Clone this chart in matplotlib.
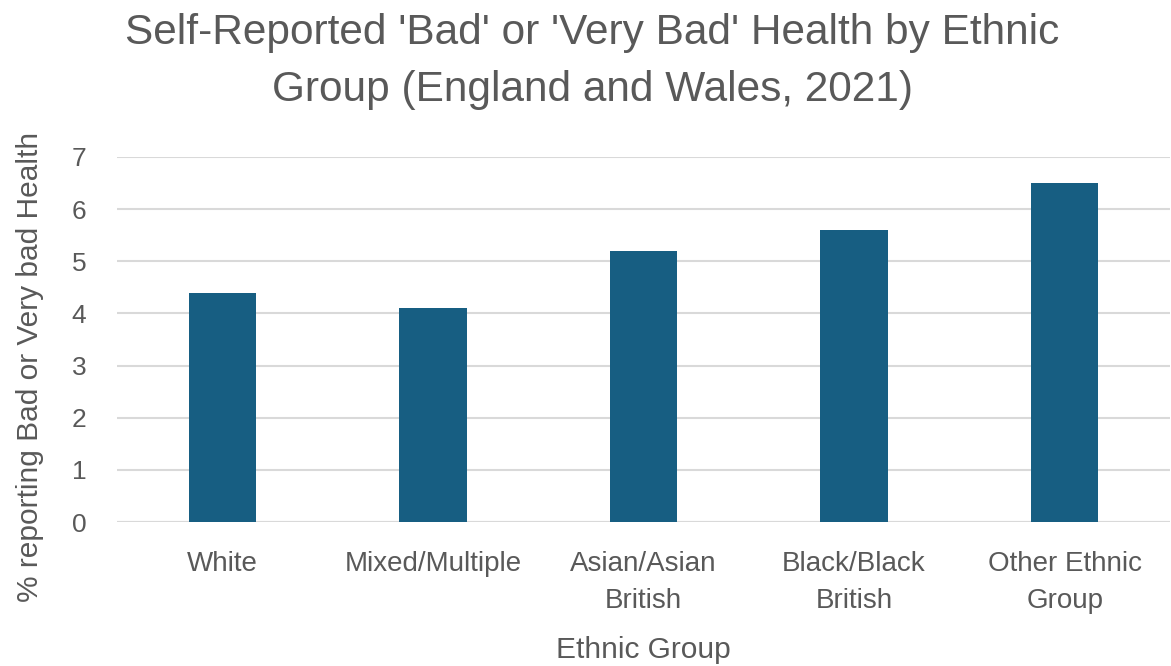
import matplotlib.pyplot as plt
import numpy as np

# Self-reported bad / very bad health, England and Wales census 2021
groups = ["White", "Mixed/Multiple", "Asian/Asian\nBritish", "Black/Black\nBritish", "Other Ethnic\nGroup"]
pct_bad_health = [4.4, 4.1, 5.2, 5.6, 6.5]
y_ticks = [0, 1, 2, 3, 4, 5, 6, 7]

bar_color = "#175E82"
text_color = "#595959"
grid_color = "#D9D9D9"

plt.rcParams['font.family'] = ['Liberation Sans', 'DejaVu Sans']

fig = plt.figure(figsize=(11.71, 6.66), dpi=100)
ax = fig.add_axes([117 / 1171, 1 - 522 / 666, (1170 - 117) / 1171, (522 - 157) / 666])

x = np.arange(len(groups))
ax.bar(x, pct_bad_health, width=0.32, color=bar_color, zorder=3)

ax.set_xlim(-0.5, len(groups) - 0.5)
ax.set_ylim(0, 7)
ax.set_yticks(y_ticks)
ax.yaxis.grid(True, color=grid_color, linewidth=1.5, zorder=0)
for s in ax.spines.values():
    s.set_visible(False)
ax.axhline(0, color=grid_color, linewidth=1.5, zorder=2)

ax.set_xticks(x)
ax.set_xticklabels(groups, fontsize=20, color=text_color, linespacing=1.55)
ax.tick_params(axis='x', length=0, pad=21)
ax.tick_params(axis='y', length=0, pad=22, labelsize=19, labelcolor=text_color)

ax.set_xlabel("Ethnic Group", fontsize=21.5, color=text_color, labelpad=16)
ax.set_ylabel("% reporting Bad or Very bad Health", fontsize=21.5, color=text_color)
ax.yaxis.set_label_coords(-0.0695, 0.425)

fig.text(0.506, 0.98, "Self-Reported 'Bad' or 'Very Bad' Health by Ethnic\nGroup (England and Wales, 2021)",
         ha='center', va='top', fontsize=30.5, color=text_color, linespacing=1.55)

fig.savefig("out.png", dpi=100)
